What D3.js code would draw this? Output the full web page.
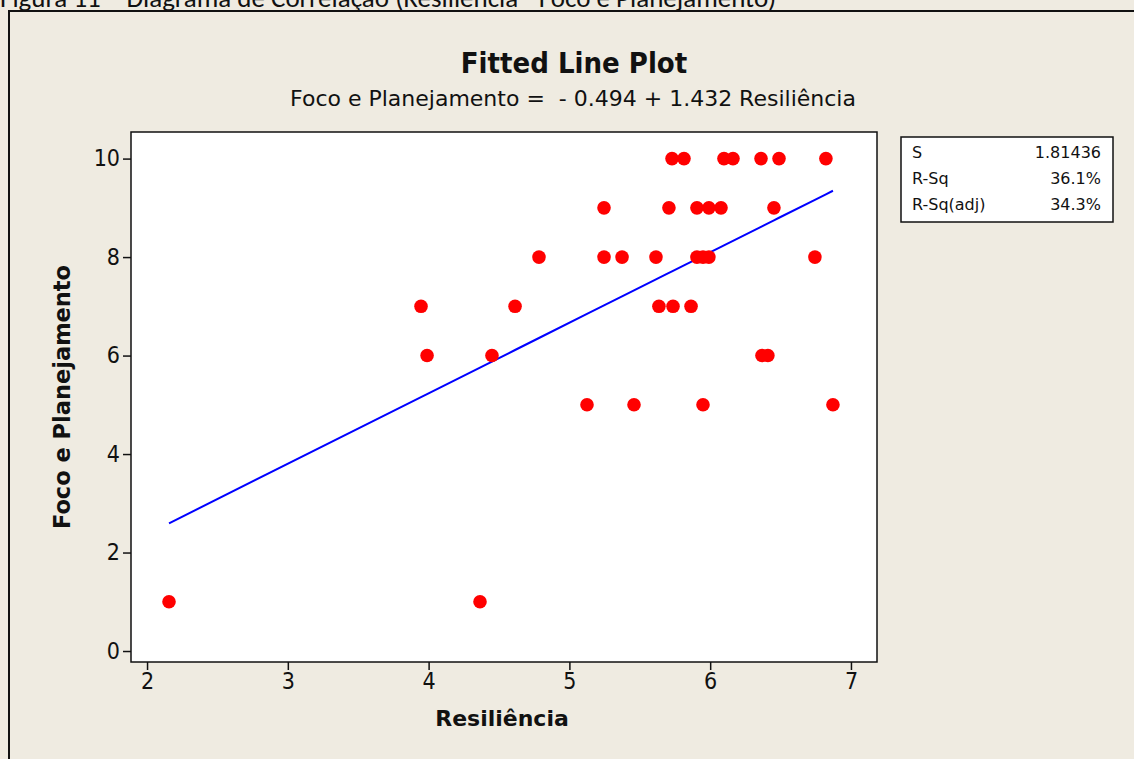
<!DOCTYPE html>
<html>
<head>
<meta charset="utf-8">
<script src="https://cdn.jsdelivr.net/npm/d3@7"></script>
<style>
  html, body { margin: 0; padding: 0; background: #efebe1; }
  svg { display: block; }
  text { white-space: pre; }
</style>
</head>
<body>
<svg id="chart" width="1134" height="759"></svg>
<script>
// Resiliência (x) and Foco e Planejamento (y) scores, one entry per respondent
const resiliencia = [
  5.729, 5.814, 6.098, 6.162, 6.361, 6.489, 6.822,
  5.246, 5.707, 5.906, 5.991, 6.077, 6.453,
  4.784, 5.246, 5.374, 5.615, 5.906, 5.949, 5.991, 6.744,
  3.946, 4.614, 5.636, 5.736, 5.864,
  3.989, 4.450, 6.368, 6.410,
  5.125, 5.459, 5.949, 6.872,
  2.156, 4.365
];
const foco = [
  10, 10, 10, 10, 10, 10, 10,
  9, 9, 9, 9, 9, 9,
  8, 8, 8, 8, 8, 8, 8, 8,
  7, 7, 7, 7, 7,
  6, 6, 6, 6,
  5, 5, 5, 5,
  1, 1
];

// Regression coefficients and summary statistics
const intercept = -0.494;
const slope = 1.432;
const statLabels = ["S", "R-Sq", "R-Sq(adj)"];
const statValues = ["1.81436", "36.1%", "34.3%"];

const xTicks = [2, 3, 4, 5, 6, 7];
const yTicks = [0, 2, 4, 6, 8, 10];

const svg = d3.select("#chart");
const W = 1134, H = 759;
const cond = "'DejaVu Sans Condensed', 'DejaVu Sans', sans-serif";
const wide = "'DejaVu Sans', sans-serif";

// Outer frame of the figure
svg.append("rect").attr("x", 0).attr("y", 0).attr("width", W).attr("height", H).attr("fill", "#efebe1");
svg.append("path")
  .attr("d", `M9,${H + 2} L9,11 L${W + 2},11`)
  .attr("fill", "none").attr("stroke", "#111").attr("stroke-width", 2);

// Caption above the figure (partly cut by the top edge)
svg.append("text")
  .attr("x", 0).attr("y", 7)
  .attr("font-family", "Carlito, Lato, 'Open Sans', sans-serif")
  .attr("font-size", 27)
  .attr("fill", "#111")
  .text("Figura 11 – Diagrama de Correlação (Resiliência - Foco e Planejamento)");

// Plot area
const plot = { left: 131, top: 132, right: 877, bottom: 662 };
const x = d3.scaleLinear().domain([1.886, 7.185]).range([plot.left, plot.right]);
const y = d3.scaleLinear().domain([-0.223, 10.54]).range([plot.bottom, plot.top]);

svg.append("rect")
  .attr("x", plot.left).attr("y", plot.top)
  .attr("width", plot.right - plot.left).attr("height", plot.bottom - plot.top)
  .attr("fill", "#fff").attr("stroke", "#111").attr("stroke-width", 1.5);

// Axes
const xAxis = svg.append("g")
  .attr("transform", `translate(0,${plot.bottom})`)
  .call(d3.axisBottom(x).tickValues(xTicks).tickFormat(d3.format("d")).tickSize(8).tickSizeOuter(0).tickPadding(3));
const yAxis = svg.append("g")
  .attr("transform", `translate(${plot.left},0)`)
  .call(d3.axisLeft(y).tickValues(yTicks).tickFormat(d3.format("d")).tickSize(8).tickSizeOuter(0).tickPadding(3));
[xAxis, yAxis].forEach(g => {
  g.select(".domain").remove();
  g.selectAll(".tick line").attr("stroke", "#111").attr("stroke-width", 1.5);
  g.selectAll(".tick text").attr("font-family", cond).attr("font-size", 23).attr("fill", "#111");
});

// Axis titles
svg.append("text")
  .attr("x", (plot.left + plot.right) / 2 - 2).attr("y", 726)
  .attr("text-anchor", "middle")
  .attr("font-family", wide).attr("font-weight", "bold").attr("font-size", 22).attr("fill", "#111")
  .text("Resiliência");
svg.append("text")
  .attr("transform", `translate(70,${(plot.top + plot.bottom) / 2}) rotate(-90)`)
  .attr("text-anchor", "middle")
  .attr("font-family", wide).attr("font-weight", "bold").attr("font-size", 22.5).attr("fill", "#111")
  .text("Foco e Planejamento");

// Titles
svg.append("text")
  .attr("x", 574).attr("y", 73)
  .attr("text-anchor", "middle")
  .attr("font-family", cond).attr("font-weight", "bold").attr("font-size", 29).attr("fill", "#111")
  .text("Fitted Line Plot");
svg.append("text")
  .attr("x", 573).attr("y", 106)
  .attr("text-anchor", "middle")
  .attr("font-family", wide).attr("font-size", 22).attr("fill", "#111")
  .text(`Foco e Planejamento =  - ${Math.abs(intercept).toFixed(3)} + ${slope.toFixed(3)} Resiliência`);

// Fitted regression line across the observed range
const xs = resiliencia.slice().sort(d3.ascending);
const fit = xs.map(v => [v, intercept + slope * v]);
svg.append("path")
  .datum(fit)
  .attr("fill", "none").attr("stroke", "#0000ff").attr("stroke-width", 2)
  .attr("d", d3.line().x(d => x(d[0])).y(d => y(d[1])));

// Observations
svg.append("g").selectAll("circle")
  .data(resiliencia.map((v, i) => [v, foco[i]]))
  .join("circle")
  .attr("cx", d => x(d[0])).attr("cy", d => y(d[1]))
  .attr("r", 6.8).attr("fill", "#ff0000");

// Summary statistics box
const box = svg.append("g").attr("transform", "translate(901,137)");
box.append("rect").attr("width", 212).attr("height", 85)
  .attr("fill", "#fff").attr("stroke", "#111").attr("stroke-width", 1.5);
statLabels.forEach((lab, i) => {
  box.append("text").attr("x", 11).attr("y", 21 + i * 26)
    .attr("font-family", wide).attr("font-size", 16).attr("fill", "#111").text(lab);
  box.append("text").attr("x", 200).attr("y", 21 + i * 26).attr("text-anchor", "end")
    .attr("font-family", wide).attr("font-size", 16).attr("fill", "#111").text(statValues[i]);
});
</script>
</body>
</html>
